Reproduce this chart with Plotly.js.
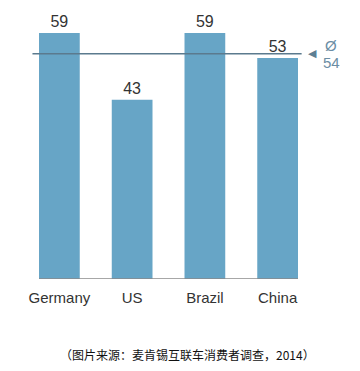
<!DOCTYPE html>
<html>
<head>
<meta charset="utf-8">
<script src="https://cdn.plot.ly/plotly-3.0.1.min.js"></script>
<style>html,body{margin:0;padding:0;background:#fff;}#chart{width:360px;height:371px;}</style>
</head>
<body>
<div id="chart"></div>
<script>
const categories = ["Germany", "US", "Brazil", "China"];
const values = [59, 43, 59, 53];
const averageValue = 54;
const averageLabel = ["Ø", "54"];
const caption = "（图片来源：麦肯锡互联车消费者调查，2014）";

const barColor = "#67a5c6";
const data = [{
  type: "bar",
  x: categories,
  y: values,
  marker: {color: barColor},
  text: values.map(String),
  textposition: "outside",
  cliponaxis: false,
  textfont: {family: "Liberation Sans, Arial, sans-serif", size: 16, color: "#333"},
  hoverinfo: "none"
}];

const layout = {
  width: 360, height: 371,
  margin: {l: 22.5, r: 45.5, t: 8, b: 92},
  paper_bgcolor: "#fff", plot_bgcolor: "#fff",
  showlegend: false,
  bargap: 0.44,
  xaxis: {
    type: "category",
    showgrid: false, zeroline: false, showline: false,
    ticks: "", ticklen: 0,
    ticklabelstandoff: 8,
    tickfont: {family: "Liberation Sans, Arial, sans-serif", size: 15, color: "#333"},
    fixedrange: true
  },
  yaxis: {
    range: [0, 65],
    visible: false,
    fixedrange: true
  },
  shapes: [
    {type: "line", xref: "x", yref: "y", x0: -0.28, x1: 3.28, y0: 0, y1: 0,
     line: {color: "#8a8a8a", width: 1.5}},
    {type: "line", xref: "x", yref: "y", x0: -0.37, x1: 3.33, y0: averageValue, y1: averageValue,
     line: {color: "#5b7a8e", width: 1.5}}
  ],
  annotations: [
    {xref: "paper", yref: "y", x: 1.0, y: averageValue, xanchor: "left", yanchor: "middle",
     text: "◀", showarrow: false, xshift: -8,
     font: {family: "DejaVu Sans, sans-serif", size: 11, color: "#5d7f94"}},
    {xref: "paper", yref: "y", x: 1.0, y: averageValue, xanchor: "center", yanchor: "middle",
     text: averageLabel[0], showarrow: false, xshift: 17, yshift: 8,
     font: {family: "Liberation Sans, Arial, sans-serif", size: 15, color: "#6b8da4"}},
    {xref: "paper", yref: "y", x: 1.0, y: averageValue, xanchor: "center", yanchor: "middle",
     text: averageLabel[1], showarrow: false, xshift: 17, yshift: -9,
     font: {family: "Liberation Sans, Arial, sans-serif", size: 15, color: "#6b8da4"}},
    {xref: "paper", yref: "paper", x: 0.5, y: -0.28, xanchor: "center", yanchor: "middle",
     text: caption, showarrow: false, xshift: 19,
     font: {family: "Noto Sans CJK SC, sans-serif", size: 12, color: "#111"}}
  ]
};

Plotly.newPlot("chart", data, layout, {displayModeBar: false, staticPlot: true});
</script>
</body>
</html>
